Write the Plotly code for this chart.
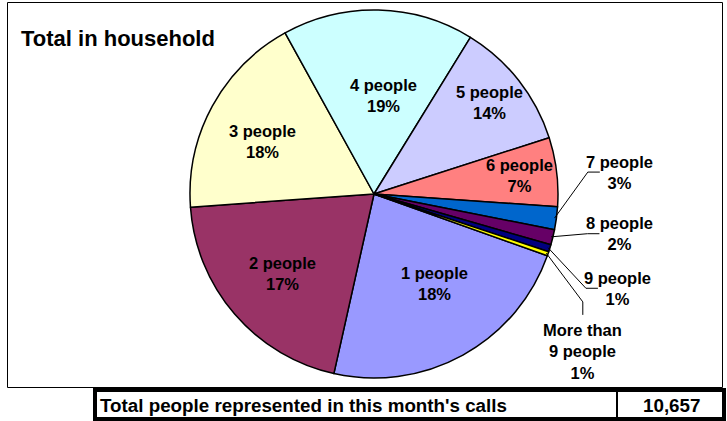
import math
import plotly.graph_objects as go

# ---- data ----
categories = ["1 people", "2 people", "3 people", "4 people", "5 people",
              "6 people", "7 people", "8 people", "9 people", "More than<br>9 people"]
# slice sizes as drawn (degrees of the circle)
slice_values = [83.0, 73.3, 65.2, 60.5, 40.6, 21.8, 7.2, 4.8, 2.3, 1.3]
# percentages as printed on the labels
label_pct = ["18%", "17%", "18%", "19%", "14%", "7%", "3%", "2%", "1%", "1%"]
colors = ["#9999FF", "#993366", "#FFFFCC", "#CCFFFF", "#CCCCFF",
          "#FF8080", "#0066CC", "#660066", "#000080", "#FFFF00"]
title_text = "Total in household"
total_label = "Total people represented in this month's calls"
total_value = "10,657"

# ---- layout / style ----
W, H = 727, 421
FONT = "Liberation Sans, Arial, sans-serif"
CX, CY, R = 374, 194, 184          # pie centre and radius in pixels
ROTATION = 109.6                   # start angle of first slice (clockwise from 12 o'clock)
# label placement: radial distance (fraction of radius) and angular shift from slice mid-angle
label_radius = [0.59, 0.66, 0.67, 0.54, 0.80, 0.795, 1.34, 1.35, 1.42, 1.42]
label_shift = [-5.2, 0.0, -3.4, 3.9, -0.3, -0.2, -12.7, -4.4, 4.0, 18.0]
outside = [False] * 6 + [True] * 4
LABEL_SIZE = 16.5


def px(x):
    return x / W


def py(y):
    return 1 - y / H


def polar(angle_deg, dist):
    a = math.radians(angle_deg)
    return CX + dist * math.sin(a), CY - dist * math.cos(a)


fig = go.Figure(go.Pie(
    labels=categories,
    values=slice_values,
    textinfo="none",
    sort=False,
    direction="clockwise",
    rotation=ROTATION,
    marker=dict(colors=colors, line=dict(color="#000000", width=1.5)),
    domain=dict(x=[px(CX - R), px(CX + R)], y=[py(CY + R), py(CY - R)]),
    showlegend=False,
    hoverinfo="label+percent",
))

shapes = [
    # chart area border
    dict(type="rect", xref="paper", yref="paper",
         x0=px(7.5), x1=px(722.5), y0=py(387.5), y1=py(2.5),
         line=dict(color="#000000", width=1), fillcolor="rgba(0,0,0,0)"),
    # table
    dict(type="rect", xref="paper", yref="paper",
         x0=px(95), x1=px(724), y0=py(419), y1=py(390),
         line=dict(color="#000000", width=4), fillcolor="rgba(0,0,0,0)"),
    dict(type="line", xref="paper", yref="paper",
         x0=px(617), x1=px(617), y0=py(419), y1=py(390),
         line=dict(color="#000000", width=2)),
]

annotations = [
    dict(text=title_text, xref="paper", yref="paper", x=px(19), y=py(39),
         xanchor="left", yanchor="middle", showarrow=False,
         font=dict(family=FONT, size=22, color="#000000", weight="bold")),
    dict(text=total_label, xref="paper", yref="paper", x=px(98), y=py(405),
         xanchor="left", yanchor="middle", showarrow=False,
         font=dict(family=FONT, size=18.8, color="#000000", weight="bold")),
    dict(text=total_value, xref="paper", yref="paper", x=px(671), y=py(405),
         xanchor="center", yanchor="middle", showarrow=False,
         font=dict(family=FONT, size=18.8, color="#000000", weight="bold")),
]

# data labels, placed from the slice angles
total = sum(slice_values)
cum = 0.0
for i, v in enumerate(slice_values):
    a0 = ROTATION + cum / total * 360.0
    cum += v
    a1 = ROTATION + cum / total * 360.0
    mid = (a0 + a1) / 2.0
    lx, ly = polar(mid + label_shift[i], label_radius[i] * R)
    txt = f"{categories[i]}<br>{label_pct[i]}"
    annotations.append(dict(
        text=txt, xref="paper", yref="paper", x=px(lx), y=py(ly),
        xanchor="center", yanchor="middle", showarrow=False,
        font=dict(family=FONT, size=LABEL_SIZE, color="#000000", weight="bold")))
    if outside[i]:
        ex, ey = polar(mid, R * 0.99)
        n_lines = txt.count("<br>") + 1
        if n_lines > 2:
            # leader line comes up to the top of the label
            p1 = (lx, ly - n_lines * LABEL_SIZE * 1.3 / 2 - 4)
            elbow = (p1[0], p1[1] - 13)
        else:
            half_w = 0.254 * LABEL_SIZE * len(categories[i]) / 2 + 2
            p1 = (lx - half_w - 1, ly)
            elbow = (p1[0] - 12, ly)
        path = (f"M {px(ex)},{py(ey)} L {px(elbow[0])},{py(elbow[1])} "
                f"L {px(p1[0])},{py(p1[1])}")
        shapes.append(dict(type="path", xref="paper", yref="paper", path=path,
                           line=dict(color="#000000", width=1)))

fig.update_layout(
    width=W, height=H,
    margin=dict(l=0, r=0, t=0, b=0),
    paper_bgcolor="#FFFFFF",
    plot_bgcolor="#FFFFFF",
    shapes=shapes,
    annotations=annotations,
    font=dict(family=FONT),
)

fig.write_html(
    "out.html",
    config={"displayModeBar": False},
    post_script="document.body.style.margin='0';document.body.style.overflow='hidden';",
)
